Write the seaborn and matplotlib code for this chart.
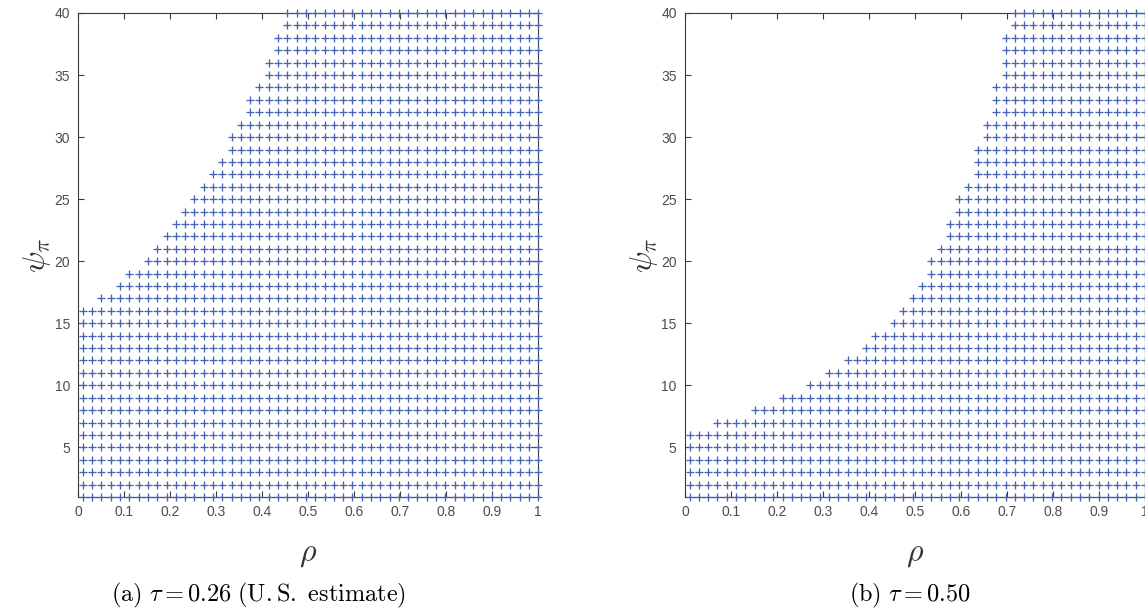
import numpy as np
import pandas as pd
import matplotlib
matplotlib.use("Agg")
import matplotlib.pyplot as plt
import seaborn as sns

# rho grid used in the scan (50 points) and psi_pi grid (integers)
rho_grid = np.linspace(0.01, 1.0, 50)
psi_grid = list(range(1, 41))

# index into rho_grid of the first stable point, one entry per psi_pi = 1..40
first_stable_a = [0] * 16 + [2, 4, 5, 7, 8, 9, 10, 11, 12, 13, 14, 15, 16, 16,
                             17, 18, 18, 19, 20, 20, 21, 21, 22, 22]
first_stable_b = [0] * 6 + [3, 7, 10, 13, 15, 17, 19, 20, 22, 23, 24, 25, 26, 26,
                            27, 28, 28, 29, 29, 30, 31, 31, 31, 32, 32, 33, 33, 33,
                            34, 34, 34, 34, 35, 35]

captions = [r"$\mathrm{(a)}\ \tau = 0.26\ \mathrm{(U.S.\ estimate)}$",
            r"$\mathrm{(b)}\ \tau = 0.50$"]

sns.set_style("ticks")
plt.rcParams["font.family"] = ["Liberation Sans", "DejaVu Sans"]
plt.rcParams["mathtext.fontset"] = "cm"

W, H = 1145, 611
fig = plt.figure(figsize=(W / 100, H / 100), dpi=100)

blue = "#4764b4"
spine_col = "#3a3a3a"

lefts = [78.3, 685.0]
cap_x = [259, 910]
for left, first, cap, cx in zip(lefts, [first_stable_a, first_stable_b], captions, cap_x):
    ax = fig.add_axes([left / W, (H - 497) / H, 460 / W, 484 / H])

    # Build the grid of stable (rho, psi) points
    rows = []
    for psi, k0 in zip(psi_grid, first):
        for rho in rho_grid[k0:]:
            rows.append((rho, psi))
    df = pd.DataFrame(rows, columns=["rho", "psi"])

    sns.scatterplot(data=df, x="rho", y="psi", marker="+", s=26, color=blue,
                    linewidth=0.95, ax=ax, legend=False, clip_on=False, zorder=3)

    ax.set_xlim(0, 1)
    ax.set_ylim(1, 40)
    ax.set_xticks(np.arange(0, 1.01, 0.1))
    ax.set_xticklabels(["0", "0.1", "0.2", "0.3", "0.4", "0.5", "0.6", "0.7", "0.8", "0.9", "1"])
    ax.set_yticks(range(5, 41, 5))
    ax.tick_params(direction="in", length=4, width=0.8, top=True, right=True,
                   labelsize=10, labelcolor="#4d4d4d", color=spine_col, pad=6)
    for sp in ax.spines.values():
        sp.set_color(spine_col)
        sp.set_linewidth(0.8)

    ax.set_xlabel(r"$\rho$", fontsize=23, color="#333333", labelpad=14)
    ax.set_ylabel(r"$\psi_\pi$", fontsize=23, color="#333333", labelpad=1)

    fig.text(cx / W, 0.025, cap, ha="center", va="center", fontsize=17.5, color="black")

fig.savefig("out.png", dpi=100)
